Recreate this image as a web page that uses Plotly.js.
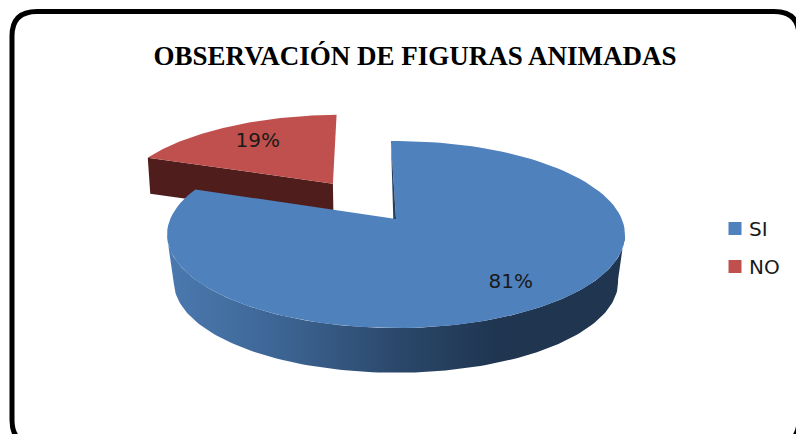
<!DOCTYPE html>
<html>
<head>
<meta charset="utf-8">
<script src="https://cdn.plot.ly/plotly-3.0.1.min.js"></script>
<style>html,body{margin:0;padding:0;background:#fff;overflow:hidden}#chart{width:796px;height:434px}</style>
</head>
<body>
<div id="chart"></div>
<script>
var chartTitle = 'OBSERVACIÓN DE FIGURAS ANIMADAS';
var categories = ['SI', 'NO'];
var shares = [81, 19];
var topColors = ['#4f81bd', '#c0504d'];
var wallStops = [[0, '#4a78ae'], [0.3, '#3e6797'], [0.7, '#2a4769'], [1, '#1f3550']];
var redWallColor = '#4f1e1c';
var cutEdgeColor = '#24405f';

/* Projection of the tilted pie: axes run in window pixels */
var cx = 396, cy = 219, ax = 225.8, ay = 90.9, k = 0.166;
var firstAngle = -1.5, explode = 0.512, labelRadii = [0.78, 0.71];
var topPlane = {shift: 0, scale: 1};
var blueBase = {shift: 48, scale: 0.97};
var redBase = {shift: 35.4, scale: 0.99};

function proj(u, v, plane) {
  var w = 1 - k * v;
  return [cx + plane.scale * ax * u / w, cy + plane.shift + plane.scale * ay * v / w];
}
function rim(deg, ou, ov, plane) {
  var t = (deg + firstAngle) * Math.PI / 180;
  return proj(Math.sin(t) + ou, -Math.cos(t) + ov, plane);
}
function arc(a, b, ou, ov, plane) {
  var pts = [], n = 120;
  for (var i = 0; i <= n; i++) pts.push(rim(a + (b - a) * i / n, ou, ov, plane));
  return pts;
}
function poly(pts, color, extra) {
  var tr = {type: 'scatter', mode: 'lines', x: pts.map(function (p) { return p[0]; }), y: pts.map(function (p) { return p[1]; }),
    fill: 'toself', fillcolor: color, line: {width: 0}, hoverinfo: 'skip', showlegend: false};
  for (var key in extra) tr[key] = extra[key];
  return tr;
}

var total = shares[0] + shares[1];
var splitDeg = 360 * shares[0] / total;
var midNo = ((splitDeg + 360) / 2 + firstAngle) * Math.PI / 180;
var midSi = (splitDeg / 2 + firstAngle) * Math.PI / 180;
var ou = explode * Math.sin(midNo), ov = -explode * Math.cos(midNo);

/* red slice: cut wall then top */
var redWall = [proj(ou, ov, topPlane), rim(splitDeg, ou, ov, topPlane), rim(splitDeg, ou, ov, redBase), proj(ou, ov, redBase)];
var redTop = [proj(ou, ov, topPlane)].concat(arc(splitDeg, 360, ou, ov, topPlane));

/* blue slice: outer wall, top, and the sliver of the cut face */
var edge = Math.acos(-k) * 180 / Math.PI;
var blueWall = arc(edge, 360 - edge, 0, 0, topPlane).concat(arc(360 - edge, edge, 0, 0, blueBase));
var blueTop = [proj(0, 0, topPlane)].concat(arc(0, splitDeg, 0, 0, topPlane));
var blueCut = [rim(0, 0, 0, topPlane), proj(0, 0, topPlane), proj(-0.012, 0, topPlane)];

var labelSi = proj(labelRadii[0] * Math.sin(midSi), -labelRadii[0] * Math.cos(midSi), topPlane);
var labelNo = proj(labelRadii[1] * Math.sin(midNo) + ou, -labelRadii[1] * Math.cos(midNo) + ov, topPlane);

var traces = [
  poly(redWall, redWallColor),
  poly(redTop, topColors[1]),
  poly(blueWall, '#2a4769', {fillgradient: {type: 'horizontal', start: 172, stop: 500, colorscale: wallStops}}),
  poly(blueTop, topColors[0]),
  poly(blueCut, cutEdgeColor),
  {type: 'scatter', mode: 'text', x: [labelSi[0], labelNo[0]], y: [labelSi[1], labelNo[1]],
   text: shares.map(function (v) { return v + '%'; }), textposition: 'middle center',
   textfont: {family: 'DejaVu Sans', size: 20, color: '#1a1a1a'}, hoverinfo: 'skip', showlegend: false},
  {type: 'scatter', mode: 'markers', x: [null], y: [null], name: categories[0], legendgroup: 'a', marker: {symbol: 'square', size: 13, color: topColors[0]}},
  {type: 'scatter', mode: 'markers', x: [null], y: [null], name: categories[1], legendgroup: 'b', marker: {symbol: 'square', size: 13, color: topColors[1]}}
];

var layout = {
  width: 796, height: 434, margin: {l: 0, r: 0, t: 0, b: 0},
  paper_bgcolor: '#fff', plot_bgcolor: '#fff',
  title: {text: '<b>' + chartTitle + '</b>', x: 415 / 796, xanchor: 'center', y: 1 - 56 / 434, yanchor: 'middle',
          font: {family: 'Liberation Serif', size: 27, color: '#000'}},
  xaxis: {range: [0, 796], visible: false, fixedrange: true},
  yaxis: {range: [434, 0], visible: false, fixedrange: true},
  showlegend: true,
  legend: {x: 717 / 796, y: 1 - 209 / 434, xanchor: 'left', yanchor: 'top', bgcolor: 'rgba(0,0,0,0)', indentation: -8,
           font: {family: 'DejaVu Sans', size: 20, color: '#1a1a1a'}, tracegroupgap: 9, itemclick: false, itemdoubleclick: false},
  shapes: [{type: 'path', xref: 'x', yref: 'y', layer: 'below',
            path: 'M 12 420 L 12 36 Q 12 11.5 37 11.5 L 774 11.5 Q 799 11.5 799 36 L 799 420 Q 799 445 774 445 L 37 445 Q 12 445 12 420 Z',
            line: {color: '#000', width: 5}, fillcolor: 'rgba(0,0,0,0)'}]
};
Plotly.newPlot('chart', traces, layout, {displayModeBar: false, staticPlot: true}).then(function () {
  /* The legend's fixed swatch-to-text gap is wider than the reference: nudge the swatches */
  document.querySelectorAll('#chart .legendpoints').forEach(function (g) {
    g.setAttribute('transform', 'translate(6,0)');
  });
});
</script>
</body>
</html>
